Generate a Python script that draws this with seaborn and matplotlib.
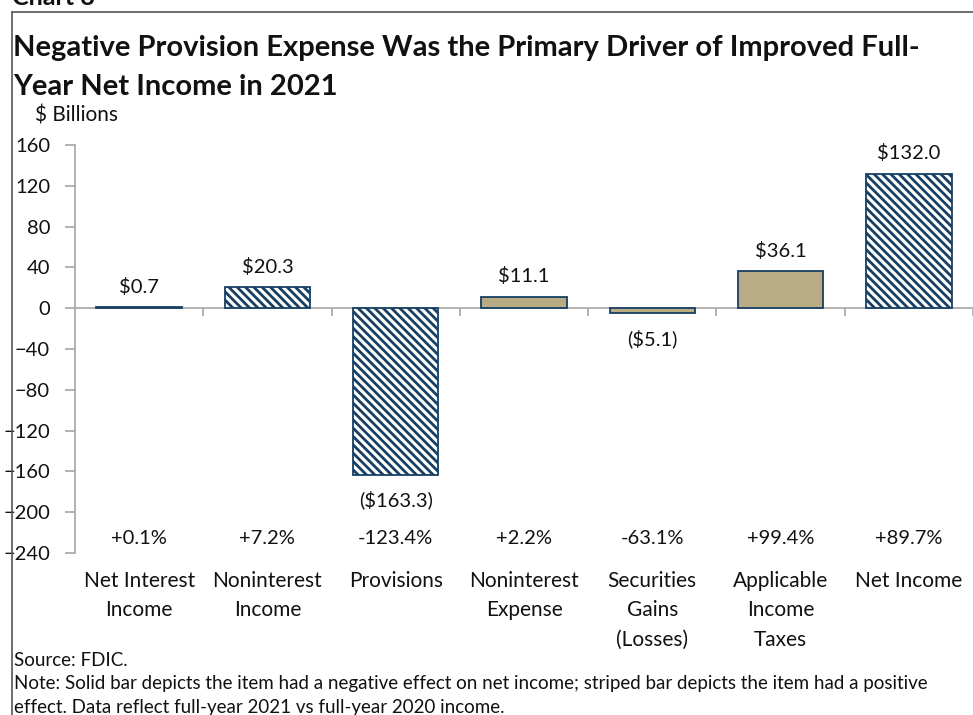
import pandas as pd
import seaborn as sns
import matplotlib.pyplot as plt
from matplotlib import transforms

categories = ['Net Interest\nIncome', 'Noninterest\nIncome', 'Provisions', 'Noninterest\nExpense',
              'Securities\nGains\n(Losses)', 'Applicable\nIncome\nTaxes', 'Net Income']
values = [0.7, 20.3, -163.3, 11.1, -5.1, 36.1, 132.0]
value_labels = ['$0.7', '$20.3', '($163.3)', '$11.1', '($5.1)', '$36.1', '$132.0']
pct_labels = ['+0.1%', '+7.2%', '-123.4%', '+2.2%', '-63.1%', '+99.4%', '+89.7%']
positive_effect = [True, True, True, False, False, False, True]

NAVY = '#173f63'
TAN = '#b9ac85'
GRAY = '#a6a6a6'
INK = '#111111'

sns.set_theme(style='white')
plt.rcParams['font.family'] = ['Lato', 'DejaVu Sans']
plt.rcParams['hatch.linewidth'] = 2.0
plt.rcParams['hatch.color'] = NAVY

df = pd.DataFrame({'item': categories, 'value': values})

fig = plt.figure(figsize=(9.73, 7.15), dpi=100)
W, H = 973, 715
ax = fig.add_axes([75 / W, 1 - 553 / H, (973 - 75) / W, (553 - 145) / H])

colors = ['white' if p else TAN for p in positive_effect]
sns.barplot(data=df, x='item', y='value', hue='item', palette=colors, legend=False,
            width=0.667, ax=ax, saturation=1)
for patch, pos in zip(ax.patches, positive_effect):
    patch.set_edgecolor(NAVY)
    patch.set_linewidth(1.3)
    if pos:
        patch.set_hatch('\\\\\\\\')

ax.set_ylim(-240, 160)
ax.set_xlim(-0.5, 6.46)
ax.set_yticks(range(-240, 161, 40))
ax.set_xlabel('')
ax.set_ylabel('')

for s in ['top', 'right']:
    ax.spines[s].set_visible(False)
ax.spines['left'].set_color(GRAY)
ax.spines['left'].set_linewidth(1.2)
ax.spines['bottom'].set_position(('data', 0))
ax.spines['bottom'].set_color(GRAY)
ax.spines['bottom'].set_linewidth(1.2)
ax.spines['bottom'].set_zorder(0)

ax.set_xticks([i + 0.5 for i in range(7)])
ax.set_xticklabels([])
ax.tick_params(axis='x', bottom=True, direction='out', length=6, width=1.2, color=GRAY)
ax.tick_params(axis='y', left=True, direction='out', length=7, width=1.2, color=GRAY,
               labelsize=14.5, pad=11, labelcolor=INK)

trans = transforms.blended_transform_factory(ax.transData, ax.transAxes)
for i, cat in enumerate(categories):
    ax.text(i, -0.043, cat, transform=trans, ha='center', va='top', fontsize=15,
            linespacing=1.6, color=INK)
    ax.text(i, -226, pct_labels[i], ha='center', va='center', fontsize=14.5, color=INK)
    v = values[i]
    off = 15 if v >= 0 else -18
    ax.annotate(value_labels[i], (i, v), xytext=(0, off), textcoords='offset points',
                ha='center', va='center', fontsize=14.5, color=INK)

# frame and titles
fig.add_artist(plt.Line2D([12 / W, 12 / W], [0, 1 - 12 / H], transform=fig.transFigure,
                          color='#555555', lw=1.2))
fig.add_artist(plt.Line2D([12 / W, 1], [1 - 12 / H, 1 - 12 / H], transform=fig.transFigure,
                          color='#555555', lw=1.2))
fig.text(12 / W, 1 - 5 / H, 'Chart 8', ha='left', va='baseline', fontsize=18,
         weight='bold', color=INK)
fig.text(13 / W, 1 - 48 / H, 'Negative Provision Expense Was the Primary Driver of Improved Full-',
         ha='left', va='center', fontsize=21, weight='bold', color=INK)
fig.text(13 / W, 1 - 87 / H, 'Year Net Income in 2021',
         ha='left', va='center', fontsize=21, weight='bold', color=INK)
fig.text(35 / W, 1 - 115 / H, '$ Billions', ha='left', va='center', fontsize=15, color=INK)
fig.text(14 / W, 1 - 660 / H, 'Source: FDIC.', ha='left', va='center', fontsize=13.5,
         color=INK)
fig.text(14 / W, 1 - 684 / H,
         'Note: Solid bar depicts the item had a negative effect on net income; striped bar depicts the item had a positive',
         ha='left', va='center', fontsize=13.5, color=INK)
fig.text(14 / W, 1 - 707 / H, 'effect. Data reflect full-year 2021 vs full-year 2020 income.',
         ha='left', va='center', fontsize=13.5, color=INK)

fig.savefig('out.png', dpi=100)
